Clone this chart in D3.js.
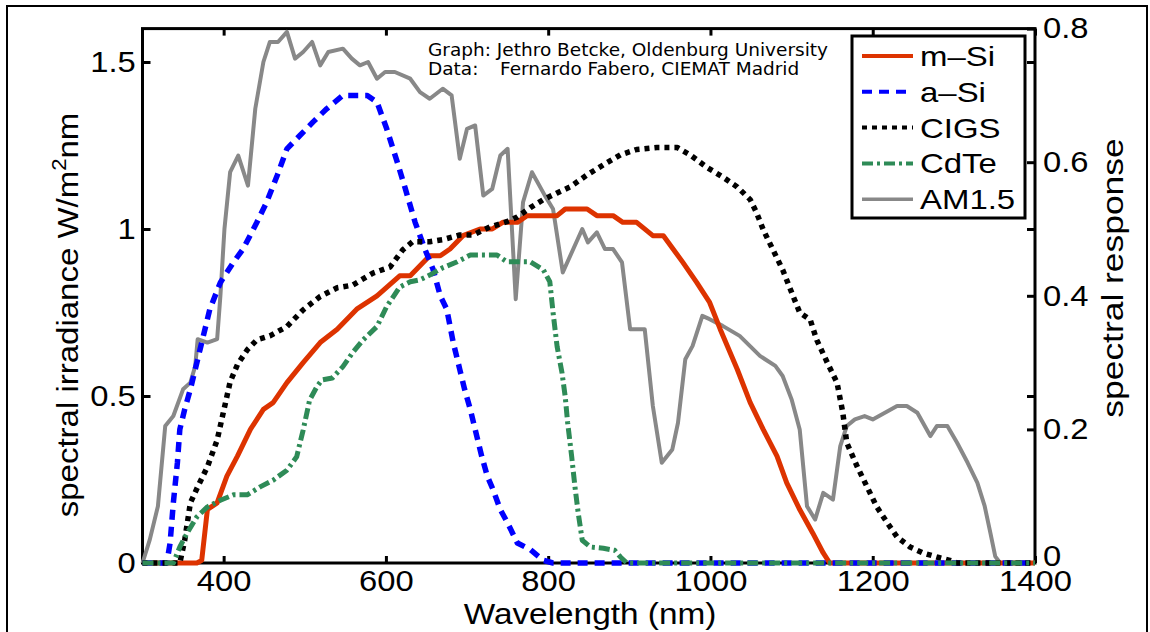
<!DOCTYPE html>
<meta charset="utf-8">
<style>
body { margin: 0; background: #fff; }
svg { display: block; font-family: 'Liberation Sans', Arial, sans-serif; }
.frame { fill: none; stroke: #000; stroke-width: 2px; }
.box { fill: none; stroke: #000; stroke-width: 3px; }
.axis path { display: none; }
.axis line { stroke: #000; stroke-width: 3px; }
.axis text { font-size: 29px; fill: #000; font-family: 'Liberation Sans', Arial, sans-serif; }
.curve { fill: none; stroke-linejoin: round; }
.note { font-family: 'DejaVu Sans', sans-serif; font-size: 18.5px; }
</style>
<svg id="chart" width="1150" height="632"></svg>
<script src="https://d3js.org/d3.v7.min.js"></script>
<script>
// AM1.5 spectrum (left axis, W/m2nm)
const amWl = [300,309,319,328,338,350,359,365,368,380,392,396,401,408,418,430,439,449,457,467,478,488,498,509,519,529,547,558,568,578,589,599,611,630,642,654,670,681,691,700,710,720,731,741,750,760,769,780,796,806,818,842,849,860,870,880,891,901,919,929,940,953,960,969,978,990,999,1015,1036,1061,1080,1089,1100,1110,1119,1129,1139,1151,1160,1168,1178,1190,1200,1215,1230,1242,1255,1271,1279,1292,1304,1317,1329,1338,1345,1351,1357,1400];
const amVal = [0,0.07,0.17,0.41,0.44,0.52,0.54,0.59,0.67,0.66,0.67,0.80,1.00,1.17,1.22,1.13,1.36,1.50,1.56,1.56,1.59,1.51,1.53,1.56,1.49,1.53,1.54,1.51,1.49,1.50,1.45,1.47,1.47,1.45,1.41,1.39,1.42,1.40,1.21,1.30,1.31,1.10,1.12,1.22,1.24,0.79,1.08,1.17,1.10,1.06,0.87,1.00,0.96,0.99,0.94,0.94,0.90,0.70,0.70,0.47,0.30,0.34,0.42,0.61,0.65,0.74,0.73,0.71,0.68,0.62,0.59,0.56,0.49,0.40,0.17,0.13,0.21,0.19,0.35,0.41,0.43,0.44,0.43,0.45,0.47,0.47,0.45,0.38,0.41,0.41,0.36,0.30,0.24,0.17,0.09,0.02,0,0];

// spectral response of the cells (right axis)
const mSiWl = [300,367,373,380,392,404,417,433,449,461,478,498,519,540,564,589,617,630,654,667,679,695,716,731,744,762,774,811,821,848,860,880,892,909,929,942,966,983,999,1012,1033,1049,1065,1082,1094,1110,1126,1139,1147,1400];
const mSiResp = [0,0,0.004,0.08,0.09,0.13,0.16,0.20,0.23,0.24,0.27,0.30,0.33,0.35,0.38,0.40,0.43,0.43,0.46,0.46,0.47,0.49,0.50,0.50,0.51,0.51,0.52,0.52,0.53,0.53,0.52,0.52,0.51,0.51,0.49,0.49,0.45,0.42,0.39,0.35,0.29,0.24,0.20,0.16,0.12,0.08,0.045,0.015,0,0];

const aSiWl = [300,330,334,338,343,346,352,359,371,383,396,412,424,441,453,466,478,494,510,527,547,577,589,601,614,624,636,648,658,667,675,683,691,697,704,712,718,725,732,741,750,762,778,794,806,1400];
const aSiResp = [0,0,0.03,0.09,0.15,0.20,0.23,0.26,0.32,0.38,0.42,0.45,0.47,0.51,0.54,0.58,0.62,0.64,0.66,0.68,0.70,0.70,0.69,0.65,0.60,0.56,0.51,0.47,0.44,0.40,0.38,0.33,0.29,0.26,0.23,0.19,0.16,0.13,0.11,0.08,0.06,0.03,0.02,0.004,0,0];

const cigsWl = [300,346,352,359,368,380,392,399,408,417,429,441,457,478,498,519,540,559,584,605,621,633,654,670,691,707,728,749,762,778,794,811,827,848,868,889,909,934,959,975,996,1015,1033,1049,1057,1065,1077,1089,1102,1110,1123,1131,1144,1156,1163,1168,1181,1193,1205,1218,1230,1246,1262,1279,1295,1304,1400];
const cigsResp = [0,0,0.034,0.09,0.114,0.144,0.184,0.222,0.271,0.297,0.319,0.334,0.340,0.354,0.379,0.399,0.412,0.416,0.434,0.443,0.469,0.481,0.481,0.484,0.491,0.491,0.503,0.511,0.518,0.532,0.544,0.554,0.563,0.581,0.596,0.611,0.619,0.622,0.622,0.611,0.592,0.578,0.563,0.544,0.524,0.499,0.469,0.439,0.399,0.375,0.364,0.334,0.300,0.270,0.226,0.180,0.144,0.114,0.084,0.060,0.039,0.024,0.015,0.009,0.004,0,0];

const cdteWl = [300,338,346,355,367,380,396,412,429,445,461,478,490,498,506,515,521,534,547,559,572,589,601,617,630,642,654,670,688,704,737,749,778,794,802,806,811,817,821,824,829,833,837,842,852,868,882,889,897,1400];
const cdteResp = [0,0,0.024,0.045,0.069,0.084,0.094,0.102,0.102,0.114,0.124,0.139,0.159,0.199,0.244,0.264,0.274,0.277,0.294,0.315,0.334,0.354,0.384,0.413,0.421,0.424,0.431,0.442,0.451,0.461,0.461,0.451,0.451,0.439,0.421,0.375,0.324,0.285,0.249,0.210,0.159,0.114,0.075,0.034,0.024,0.022,0.019,0.009,0,0];

const xTicks = [400,600,800,1000,1200,1400];
const yLeftTicks = [0,0.5,1,1.5];
const yRightTicks = [0,0.2,0.4,0.6,0.8];

var svg = d3.select("#chart");
var x0 = 142.5, x1 = 1035, y0 = 563, y1 = 28.6;

var x = d3.scaleLinear().domain([300,1400]).range([x0,x1]);
var yL = d3.scaleLinear().domain([0,1.6]).range([y0,y1]);
var yR = d3.scaleLinear().domain([0,0.8]).range([y0,y1]);

svg.append("rect").attr("class","frame")
    .attr("x",7).attr("y",6).attr("width",1140).attr("height",650);

// box + ticks
svg.append("rect").attr("class","box")
    .attr("x",x0).attr("y",y1).attr("width",x1-x0).attr("height",y0-y1);

function stretch(g, s) {
  g.selectAll("text").attr("transform","scale(" + s + ",1)");
}

svg.append("g").attr("class","axis").attr("transform","translate(0," + y0 + ")")
    .call(d3.axisBottom(x).tickValues(xTicks).tickSizeInner(-7).tickSizeOuter(0).tickPadding(7).tickFormat(d3.format("d")))
    .call(stretch, 1.13);
svg.append("g").attr("class","axis").attr("transform","translate(0," + y1 + ")")
    .call(d3.axisTop(x).tickValues(xTicks).tickSizeInner(-7).tickSizeOuter(0).tickFormat(""));
svg.append("g").attr("class","axis").attr("transform","translate(" + x0 + ",0)")
    .call(d3.axisLeft(yL).tickValues(yLeftTicks).tickSizeInner(-8).tickSizeOuter(0).tickPadding(6).tickFormat(d3.format("~g")))
    .call(stretch, 1.13);
svg.append("g").attr("class","axis").attr("transform","translate(" + x1 + ",0)")
    .call(d3.axisRight(yL).tickValues(yLeftTicks).tickSizeInner(-8).tickSizeOuter(0).tickFormat(""));
svg.append("g").attr("class","axis").attr("transform","translate(" + x1 + ",0)")
    .call(d3.axisRight(yR).tickValues(yRightTicks).tickSizeInner(-8).tickSizeOuter(0).tickPadding(7).tickFormat(d3.format("~g")))
    .call(stretch, 1.13)
    .selectAll("text").filter(function(d) { return d === 0; }).attr("dy", "0.1em");

// curves
var series = [
  {name:"AM1.5", wl:amWl, v:amVal, y:yL, color:"#888888", width:4, dash:null},
  {name:"m\u2013Si", wl:mSiWl, v:mSiResp, y:yR, color:"#dd3300", width:5, dash:null},
  {name:"a\u2013Si", wl:aSiWl, v:aSiResp, y:yR, color:"#0000ff", width:5.5, dash:"10,7"},
  {name:"CIGS", wl:cigsWl, v:cigsResp, y:yR, color:"#000000", width:5.5, dash:"5,5"},
  {name:"CdTe", wl:cdteWl, v:cdteResp, y:yR, color:"#2e8b57", width:5, dash:"11,4,3,4"}
];

series.forEach(function(s) {
  var line = d3.line()
      .x(function(d, i) { return x(s.wl[i]); })
      .y(function(d) { return s.y(d); });
  svg.append("path").attr("class","curve")
      .attr("d", line(s.v))
      .attr("stroke", s.color)
      .attr("stroke-width", s.width)
      .attr("stroke-dasharray", s.dash);
});

// note text
svg.append("text").attr("class","note").attr("x",428).attr("y",56)
    .text("Graph: Jethro Betcke, Oldenburg University");
svg.append("text").attr("class","note").attr("x",428).attr("y",75).text("Data:");
svg.append("text").attr("class","note").attr("x",500).attr("y",75)
    .text("Fernardo Fabero, CIEMAT Madrid");

// legend
var legendOrder = [1,2,3,4,0];
var lg = svg.append("g");
lg.append("rect").attr("x",852).attr("y",36).attr("width",173).attr("height",182)
    .attr("fill","#fff").attr("stroke","#000").attr("stroke-width",3);
legendOrder.forEach(function(k, i) {
  var s = series[k];
  var ly = 56 + i * 35.8;
  lg.append("line").attr("x1",862).attr("x2",913).attr("y1",ly).attr("y2",ly)
      .attr("stroke", s.color).attr("stroke-width", k === 0 ? 3.5 : 4)
      .attr("stroke-dasharray", s.dash);
  lg.append("g").attr("transform","translate(920," + (ly + 10) + ")")
    .append("text").attr("transform","scale(1.22,1)")
      .style("font-size","27px").text(s.name);
});

// axis titles
svg.append("text").attr("x",590).attr("y",624).attr("text-anchor","middle")
    .attr("transform","translate(590,0) scale(1.15,1) translate(-590,0)")
    .style("font-size","29px").text("Wavelength (nm)");

var ylab = svg.append("text").attr("text-anchor","middle")
    .attr("transform","translate(78,315) rotate(-90) scale(1.1,1)")
    .style("font-size","30px");
ylab.append("tspan").text("spectral irradiance W/m");
ylab.append("tspan").attr("dy",-12).style("font-size","20px").text("2");
ylab.append("tspan").attr("dy",12).text("nm");

svg.append("text").attr("text-anchor","middle")
    .attr("transform","translate(1123,278) rotate(-90) scale(1.18,1)")
    .style("font-size","30px").text("spectral response");
</script>
